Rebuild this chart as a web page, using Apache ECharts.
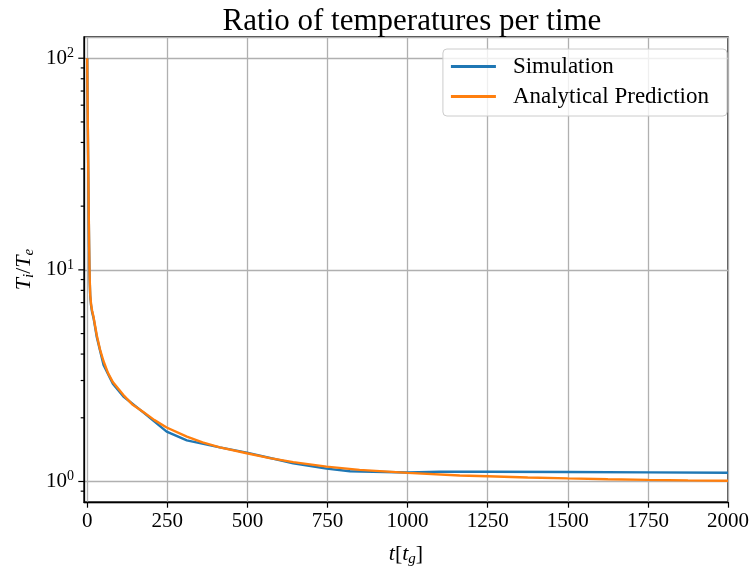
<!DOCTYPE html>
<html><head><meta charset="utf-8">
<script src="https://cdn.jsdelivr.net/npm/echarts@6/dist/echarts.min.js"></script>
<style>html,body{margin:0;padding:0;background:#fff}#c{width:752px;height:572px}</style>
</head><body><div id="c"></div>
<script>
const simT = [0,1,2,3,4,5,6,7,8,9.5,12,15,20,30,51,80,113,175,248,311,414,498,643,747,820,1001,1100,1250,1500,1750,2000];
const simV = [100,66,46,32,23,17,12.8,10.2,8.7,7.5,6.8,6.35,5.9,4.8,3.55,2.9,2.52,2.12,1.72,1.565,1.45,1.37,1.22,1.15,1.118,1.103,1.112,1.112,1.108,1.104,1.099];
const anaT = [0,1,2,3,4,5,6,7,8,9.5,12,15,19.6,25,30,40,51,65,80,113,140,175,210,248,311,360,414,498,570,643,747,850,1001,1163,1250,1375,1500,1625,1750,1875,2000];
const anaV = [100,68,47,33,24,17.5,13.2,10.4,8.9,7.6,6.9,6.45,6.0,5.4,4.9,4.2,3.7,3.25,2.95,2.56,2.32,2.13,1.95,1.8,1.63,1.53,1.45,1.36,1.29,1.235,1.175,1.135,1.098,1.067,1.058,1.045,1.034,1.025,1.018,1.012,1.0075];
const xTicks = [0,250,500,750,1000,1250,1500,1750,2000];
const yMajor = [1,10,100];
const yMinor = [0.9,2,3,4,5,6,7,8,9,20,30,40,50,60,70,80,90];

const X_MIN = -10, X_MAX = 2000, Y_MIN = 0.8, Y_MAX = 126;
const FONT = 'Liberation Serif';

const chart = echarts.init(document.getElementById('c'), null, {renderer: 'canvas'});

function tickSeries(vals, len) {
  return {
    type: 'custom', silent: true, clip: false, z: 10,
    data: vals.map(v => [X_MIN, v]),
    renderItem: function (params, api) {
      const p = api.coord([api.value(0), api.value(1)]);
      return {type: 'line', shape: {x1: p[0] - len, y1: p[1], x2: p[0], y2: p[1]},
              style: {stroke: '#000', lineWidth: 1.2}};
    }
  };
}

chart.setOption({
  animation: false,
  backgroundColor: '#fff',
  title: {
    text: 'Ratio of temperatures per time',
    left: 407, top: 1, textAlign: 'center',
    textStyle: {fontFamily: FONT, fontSize: 31, fontWeight: 'normal', color: '#000'}
  },
  grid: {left: 84, right: 22, top: 37, bottom: 63, show: true, borderColor: '#000', borderWidth: 1.3, backgroundColor: 'transparent'},
  legend: {
    data: ['Simulation', 'Analytical Prediction'],
    orient: 'vertical', right: 25, top: 49,
    backgroundColor: 'rgba(255,255,255,0.8)', borderColor: '#cccccc', borderWidth: 1, borderRadius: 4,
    padding: [6, 18, 8, 8], itemWidth: 45, itemHeight: 3, itemGap: 7, icon: 'rect',
    textStyle: {fontFamily: FONT, fontSize: 23, lineHeight: 23, color: '#000', padding: [0, 0, 0, 12]}
  },
  xAxis: {
    type: 'value', min: X_MIN, max: X_MAX,
    name: '{i|t}{r|[}{i|t}{sub|g}{r|]}', nameLocation: 'middle', nameGap: 40,
    nameTextStyle: {rich: {
      i: {fontFamily: FONT, fontStyle: 'italic', fontSize: 22, color: '#000'},
      r: {fontFamily: FONT, fontSize: 22, color: '#000'},
      sub: {fontFamily: FONT, fontStyle: 'italic', fontSize: 15, color: '#000', padding: [10, 0, 0, 0]}
    }},
    axisLine: {show: true, onZero: false, lineStyle: {color: '#000', width: 1.3}},
    axisTick: {show: true, customValues: xTicks, length: 5.7, lineStyle: {color: '#000', width: 1.2}},
    axisLabel: {customValues: xTicks, fontFamily: FONT, fontSize: 21, color: '#000', margin: 9,
                formatter: v => String(v)},
    splitLine: {show: true, customValues: xTicks, lineStyle: {color: '#b0b0b0', width: 1.3}}
  },
  yAxis: {
    type: 'log', logBase: 10, min: Y_MIN, max: Y_MAX,
    name: '{i|T}{sub|i}{r|/}{i|T}{sub|e}', nameLocation: 'middle', nameGap: 47, nameRotate: 90,
    nameMoveOverlap: false,
    nameTextStyle: {rich: {
      i: {fontFamily: FONT, fontStyle: 'italic', fontSize: 22, color: '#000'},
      r: {fontFamily: FONT, fontSize: 22, color: '#000'},
      sub: {fontFamily: FONT, fontStyle: 'italic', fontSize: 15, color: '#000', padding: [10, 0, 0, 0]}
    }},
    axisLine: {show: true, onZero: false, lineStyle: {color: '#000', width: 1.3}},
    axisTick: {show: false},
    axisLabel: {
      showMinLabel: false, showMaxLabel: false, margin: 10, color: '#000',
      formatter: function (v) {
        const e = Math.log10(v), r = Math.round(e);
        if (Math.abs(e - r) > 1e-6) return '';
        return '{b|10}{s|' + r + '}';
      },
      rich: {
        b: {fontFamily: FONT, fontSize: 21, color: '#000'},
        s: {fontFamily: FONT, fontSize: 14, color: '#000', padding: [0, 0, 10, 0]}
      }
    },
    splitLine: {show: true, lineStyle: {color: '#b0b0b0', width: 1.3}}
  },
  series: [
    {name: 'Simulation', type: 'line', symbol: 'none', color: '#1f77b4',
     lineStyle: {width: 2.4, color: '#1f77b4'}, z: 3,
     data: simT.map((t, i) => [t, simV[i]])},
    {name: 'Analytical Prediction', type: 'line', symbol: 'none', color: '#ff7f0e',
     lineStyle: {width: 2.4, color: '#ff7f0e'}, z: 4,
     data: anaT.map((t, i) => [t, anaV[i]])},
    tickSeries(yMajor, 5.7),
    tickSeries(yMinor, 3.3)
  ]
});
</script></body></html>
